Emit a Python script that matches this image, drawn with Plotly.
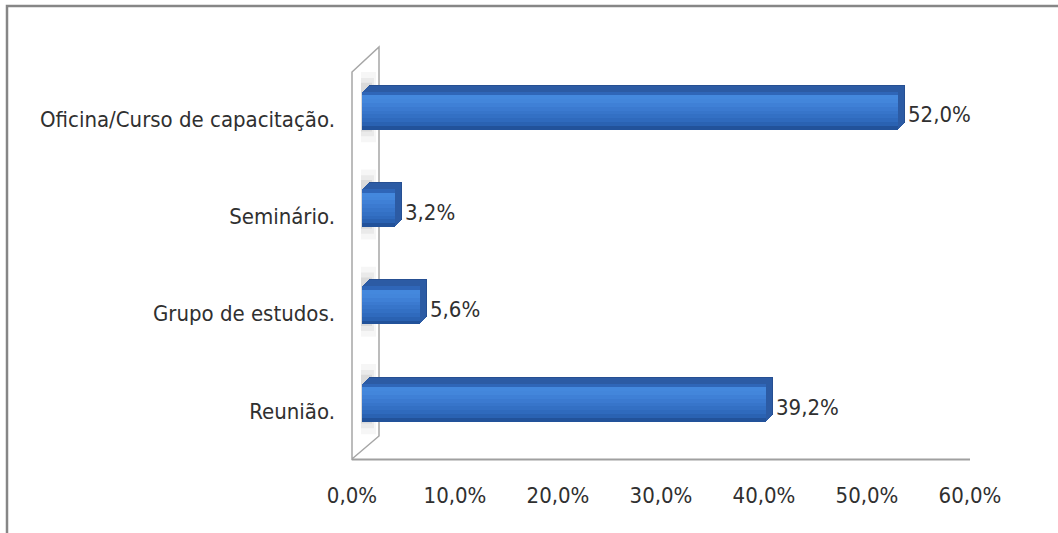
import plotly.graph_objects as go

# Survey answers (bottom to top on the chart)
categories = ["Reunião.", "Grupo de estudos.", "Seminário.", "Oficina/Curso de capacitação."]
values = [39.2, 5.6, 3.2, 52.0]
tick_values = [0, 10, 20, 30, 40, 50, 60]
tick_labels = ["0,0%", "10,0%", "20,0%", "30,0%", "40,0%", "50,0%", "60,0%"]

W, H = 1058, 533
FONT = "DejaVu Sans Condensed, DejaVu Sans, sans-serif"
FS = 22
TXT = "#303030"

# pixel layout of the plotting box
X_LEFT, X_RIGHT = 352, 970          # 0 % and 60 % on the value axis
Y_TOP, Y_BOT = 62.3, 451.7          # category band limits
BAR_SHIFT = 9.5                     # bars sit slightly in front of the wall
px_per_pct = (X_RIGHT - X_LEFT) / 60.0
px_per_cat = (Y_BOT - Y_TOP) / 4.0

def fx(p):
    return p / W

def fy(p):
    return 1 - p / H

BAR_W = 38 / px_per_cat             # front face thickness in category units
DEPTH = 7                           # depth of the extrusion in pixels

fig = go.Figure()

# invisible trace so the tick axis pair is drawn
fig.add_trace(go.Scatter(x=[0, 60], y=[categories[0], categories[-1]], mode="markers",
                         marker=dict(opacity=0), xaxis="x", yaxis="y",
                         hoverinfo="skip", showlegend=False))

# extruded depth: stacked copies shifted up/right, giving top and side faces
for k in range(DEPTH, 0, -1):
    fig.add_trace(go.Bar(
        y=categories, x=values, orientation="h",
        base=k / px_per_pct,
        offset=-BAR_W / 2 + k / px_per_cat, width=BAR_W,
        marker=dict(color="#2c5ba4" if k < DEPTH else "#264f92", line=dict(width=0)),
        xaxis="x2", yaxis="y", hoverinfo="skip", showlegend=False,
    ))

# front face drawn as horizontal stripes for a vertical shading
stripe_cols = ["#2f66b8", "#4488dd", "#4386db", "#3f80d6", "#3b7ad0",
               "#3775ca", "#3370c4", "#2f6abd", "#2a62b2", "#22529a"]
n = len(stripe_cols)
sw = BAR_W / n
for i, c in enumerate(stripe_cols):
    fig.add_trace(go.Bar(
        y=categories, x=values, orientation="h",
        offset=BAR_W / 2 - (i + 1) * sw, width=sw * 1.02,
        marker=dict(color=c, line=dict(width=0)),
        xaxis="x2", yaxis="y", hoverinfo="skip", showlegend=False,
    ))

# value labels
for cat, v in zip(categories, values):
    fig.add_annotation(
        x=v, y=cat, xref="x2", yref="y", xanchor="left", yanchor="middle",
        xshift=9, yshift=-4, showarrow=False,
        text=f"{v:.1f}%".replace(".", ","),
        font=dict(family=FONT, size=FS, color=TXT),
    )

shapes = []
# soft shadow cast on the wall by each bar
for idx in range(len(categories)):
    for spread, x1, alpha in [(0.36, 376, 0.05), (0.3, 374, 0.07), (0.25, 372, 0.1)]:
        shapes.append(dict(type="rect", xref="paper", yref="y",
                           x0=fx(361), x1=fx(x1),
                           y0=idx - spread + 0.04, y1=idx + spread + 0.04,
                           line=dict(width=0), fillcolor=f"rgba(80,80,80,{alpha})",
                           layer="below"))
# side wall of the 3-D frame
wall = (f"M {fx(352)} {fy(459)} L {fx(352)} {fy(72)} L {fx(379)} {fy(47)} "
        f"L {fx(379)} {fy(436)} Z")
shapes.append(dict(type="path", path=wall, xref="paper", yref="paper",
                   line=dict(color="#a6a6a6", width=1.5), fillcolor="rgba(0,0,0,0)",
                   layer="below"))
# floor edge
shapes.append(dict(type="line", xref="paper", yref="paper",
                   x0=fx(352), x1=fx(970), y0=fy(459.5), y1=fy(459.5),
                   line=dict(color="#a0a0a0", width=2), layer="below"))
# outer chart border (top and left)
shapes.append(dict(type="path", xref="paper", yref="paper",
                   path=f"M {fx(7)} {fy(533)} L {fx(7)} {fy(6)} L {fx(1058)} {fy(6)}",
                   line=dict(color="#868686", width=2.5), layer="below"))

fig.update_layout(
    width=W, height=H,
    margin=dict(l=0, r=0, t=0, b=0, autoexpand=False),
    paper_bgcolor="white", plot_bgcolor="rgba(0,0,0,0)",
    barmode="overlay", bargap=0,
    shapes=shapes,
    showlegend=False,
    xaxis=dict(domain=[fx(X_LEFT), fx(X_RIGHT)], range=[0, 60],
               tickvals=tick_values, ticktext=tick_labels,
               showgrid=False, zeroline=False, showline=False, ticks="",
               ticklabelstandoff=28, automargin=False,
               tickfont=dict(family=FONT, size=FS, color=TXT),
               anchor="y", fixedrange=True),
    # bar axis: same scale, nudged to the right of the wall
    xaxis2=dict(domain=[fx(X_LEFT + BAR_SHIFT), fx(X_RIGHT + BAR_SHIFT)], range=[0, 60],
                visible=False, anchor="y", fixedrange=True, automargin=False),
    yaxis=dict(domain=[fy(Y_BOT), fy(Y_TOP)], range=[-0.5, 3.5],
               type="category", categoryorder="array", categoryarray=categories,
               showgrid=False, zeroline=False, showline=False, ticks="",
               ticklabelstandoff=16, ticklabelshift=8, automargin=False,
               tickfont=dict(family=FONT, size=FS, color=TXT),
               anchor="x", fixedrange=True),
)

fig.write_html("out.html")
